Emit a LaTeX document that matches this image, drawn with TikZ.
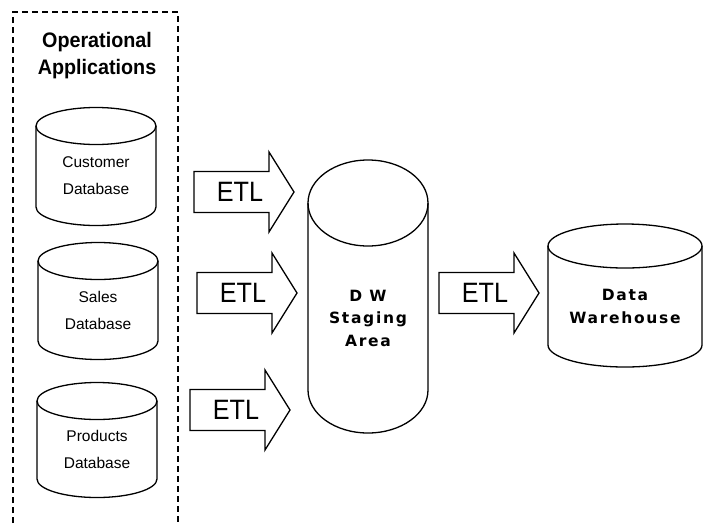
\documentclass[tikz,border=0pt]{standalone}
\usepackage{fontspec}
\setmainfont{Liberation Sans}
\newfontfamily\titlefont[FakeStretch=0.94]{Liberation Sans}
\newfontfamily\smallfont{Liberation Sans}
\newfontfamily\etlfont[FakeStretch=0.9]{Liberation Sans}
\newfontfamily\boldlabelfont[LetterSpace=11]{DejaVu Sans}

% vertical database cylinder: name, centre x, top y, bottom y, rx, ry, label style, label
\newcommand\dbcyl[8]{%
  \draw[cylline] (#2-#5,#3) -- (#2-#5,#4)
    arc[start angle=180,end angle=0,x radius=#5,y radius=#6] -- (#2+#5,#3);
  \draw[cylline] (#2,#3) ellipse[x radius=#5,y radius=#6];
  \coordinate (#1) at (#2,{(#3+#4)/2+#6/2});
  \node[#7] (#1-label) at (#1) {#8};
}

\tikzset{
  cylline/.style={line width=1.3pt, black},
  cyltext/.style={align=center, inner sep=0pt},
  smalllabel/.style={cyltext, font=\smallfont\fontsize{15.5}{27}\selectfont},
  biglabel/.style={cyltext, font=\boldlabelfont\bfseries\fontsize{15.5}{22.5}\selectfont},
  etlshape/.style={line width=1.3pt, black},
  etltext/.style={font=\etlfont\fontsize{28}{30}\selectfont, inner sep=0pt},
  etlarrow/.pic={
    \draw[etlshape] (0,-20.5) -- (75,-20.5) -- (75,-40) -- (100,0)
      -- (75,40) -- (75,20.5) -- (0,20.5) -- cycle;
    \node[etltext] (-label) at (46,0) {ETL};
  },
  groupframe/.style={line width=1.4pt, dash pattern=on 6pt off 4pt},
  titletext/.style={font=\titlefont\bfseries\fontsize{21}{27}\selectfont, align=center, inner sep=0pt},
}

\begin{document}
\begin{tikzpicture}[x=1pt,y=-1pt]
  \useasboundingbox[fill=white] (0,0) rectangle (704,523);

  % operational applications group (open at the bottom)
  \coordinate (gbl) at (13,523);
  \coordinate (gtl) at (13,12);
  \coordinate (gtr) at (178,12);
  \coordinate (gbr) at (178,523);
  \draw[groupframe] (gbl) -- (gtl) -- (gtr) -- (gbr);
  \node[titletext] (title) at (97,56) {Operational\\Applications};

  % source databases
  \dbcyl{cust}{96}{126}{207}{60}{18.5}{smalllabel}{Customer\\Database}
  \dbcyl{sales}{98}{261}{341}{60}{18.5}{smalllabel}{Sales\\Database}
  \dbcyl{prod}{97}{401}{479}{60}{18.5}{smalllabel}{Products\\Database}

  % staging area and warehouse
  \dbcyl{stage}{368}{203}{390}{60}{43}{biglabel}{D W\\Staging\\Area}
  \dbcyl{dw}{625}{246}{345}{77}{22}{biglabel}{Data\\Warehouse}

  % ETL block arrows
  \pic (etl1) at (194,192) {etlarrow};
  \pic (etl2) at (197,293) {etlarrow};
  \pic (etl3) at (190,410) {etlarrow};
  \pic (etl4) at (439,293) {etlarrow};
\end{tikzpicture}
\end{document}
